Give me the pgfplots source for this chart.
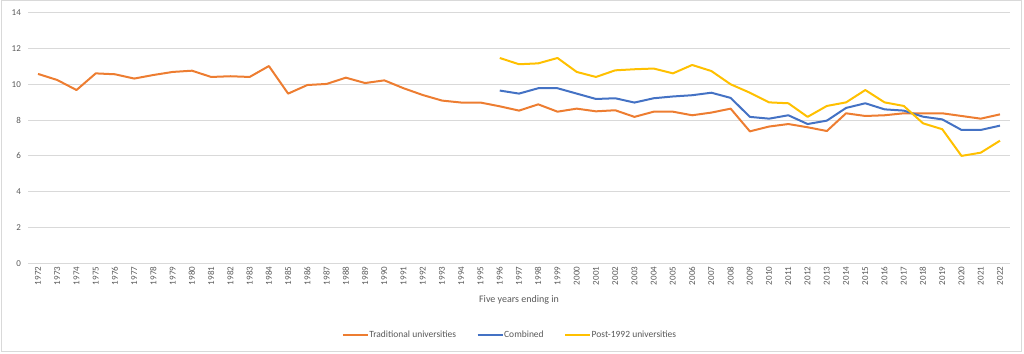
\documentclass[border=0pt]{standalone}
\usepackage{fontspec}
\setmainfont{Carlito}
\usepackage{pgfplots}
\pgfplotsset{compat=1.18}
\definecolor{xlorange}{HTML}{ED7D31}
\definecolor{xlblue}{HTML}{4472C4}
\definecolor{xlyellow}{HTML}{FFC000}
\definecolor{xltext}{HTML}{595959}
\definecolor{xlgrid}{HTML}{D9D9D9}
\begin{document}
\begin{tikzpicture}[x=1pt,y=1pt]
\useasboundingbox (0,0) rectangle (1024,353);
\draw[xlgrid, line width=0.8pt] (1,1.5) rectangle (1021.5,352.5);
\begin{axis}[
  at={(28.4pt,89.7pt)}, anchor=south west,
  scale only axis, width=981.2pt, height=250.6pt,
  xmin=1971.5, xmax=2022.5, ymin=0, ymax=14,
  xtick={1972,...,2022}, ytick={0,2,...,14},
  /pgf/number format/1000 sep={},
  /pgf/number format/assume math mode=true,
  axis line style={draw=none}, tick style={draw=none},
  ymajorgrids, grid style={xlgrid, line width=0.8pt},
  ticklabel style={font=\fontsize{9}{10}\selectfont, text=xltext},
  xticklabel style={rotate=90, anchor=east},
  yticklabel style={xshift=-4pt},
  xlabel={Five years ending in},
  xlabel style={at={(0.5,-0.146)}, anchor=center, font=\fontsize{10}{12}\selectfont, text=xltext},
  legend columns=3,
  legend style={at={(0.49,-0.285)}, anchor=center, draw=none, font=\fontsize{9.5}{11}\selectfont, text=xltext,
    nodes={inner xsep=0.5pt},
    /tikz/every even column/.append style={column sep=20pt}},
  legend image code/.code={\draw[#1] (-4pt,0pt) -- (21pt,0pt);},
]
\addplot[xlorange, line width=2pt, line join=round] coordinates {
(1972,10.58) (1973,10.24) (1974,9.68) (1975,10.61) (1976,10.56) (1977,10.32)
(1978,10.52) (1979,10.69) (1980,10.76) (1981,10.41) (1982,10.45) (1983,10.41)
(1984,11.02) (1985,9.48) (1986,9.96) (1987,10.02) (1988,10.37) (1989,10.07)
(1990,10.22) (1991,9.78) (1992,9.40) (1993,9.09) (1994,8.98) (1995,8.98)
(1996,8.77) (1997,8.53) (1998,8.88) (1999,8.47) (2000,8.64) (2001,8.49)
(2002,8.55) (2003,8.18) (2004,8.47) (2005,8.47) (2006,8.27) (2007,8.42)
(2008,8.64) (2009,7.37) (2010,7.64) (2011,7.78) (2012,7.60) (2013,7.39)
(2014,8.38) (2015,8.23) (2016,8.27) (2017,8.38) (2018,8.38) (2019,8.38)
(2020,8.23) (2021,8.08) (2022,8.32)};
\addlegendentry{Traditional universities}
\addplot[xlblue, line width=2pt, line join=round] coordinates {
(1996,9.65) (1997,9.48) (1998,9.78) (1999,9.78) (2000,9.48) (2001,9.18)
(2002,9.22) (2003,8.98) (2004,9.22) (2005,9.32) (2006,9.39) (2007,9.53)
(2008,9.24) (2009,8.18) (2010,8.08) (2011,8.27) (2012,7.78) (2013,7.97)
(2014,8.68) (2015,8.94) (2016,8.60) (2017,8.53) (2018,8.19) (2019,8.04)
(2020,7.45) (2021,7.45) (2022,7.69)};
\addlegendentry{Combined}
\addplot[xlyellow, line width=2pt, line join=round] coordinates {
(1996,11.47) (1997,11.12) (1998,11.17) (1999,11.47) (2000,10.69) (2001,10.41)
(2002,10.78) (2003,10.84) (2004,10.88) (2005,10.61) (2006,11.08) (2007,10.74)
(2008,10.00) (2009,9.53) (2010,8.99) (2011,8.94) (2012,8.18) (2013,8.79)
(2014,8.99) (2015,9.68) (2016,8.99) (2017,8.79) (2018,7.82) (2019,7.49)
(2020,6.00) (2021,6.18) (2022,6.85)};
\addlegendentry{Post-1992 universities}
\end{axis}
\end{tikzpicture}
\end{document}
